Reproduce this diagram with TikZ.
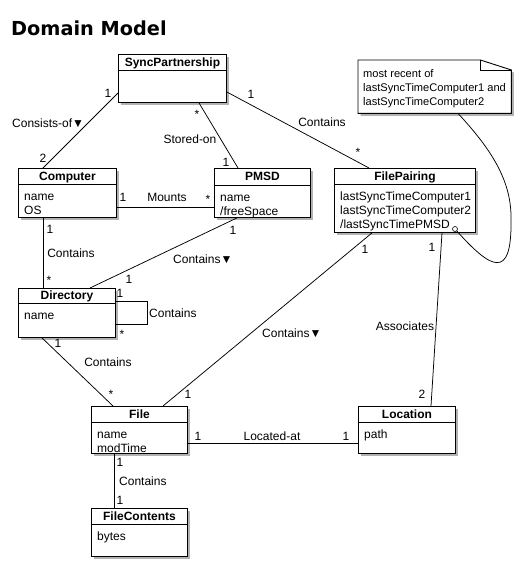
\documentclass[tikz,border=0pt]{standalone}
\usepackage{fontspec}
\setmainfont{Liberation Sans}
\newfontfamily\titlefont{DejaVu Sans}
\usetikzlibrary{calc,shadows}
\tikzset{
 cls/.style={draw, line width=0.9pt, fill=white, inner sep=0pt, anchor=north west,
   drop shadow={shadow xshift=2.5pt, shadow yshift=-2.5pt, fill=black, opacity=0.3}},
 hdr/.style={font=\bfseries\fontsize{12}{14}\selectfont, inner sep=0pt, text height=8.6pt, text depth=0pt},
 txt/.style={font=\fontsize{12}{14}\selectfont, inner sep=0pt, text height=8.6pt, text depth=0pt},
 notetxt/.style={font=\fontsize{11.1}{14}\selectfont, inner sep=0pt, text height=8pt, text depth=0pt, anchor=west},
 conn/.style={line width=0.75pt},
}
\newcommand\umlclass[8]{%
 \node[cls, minimum width=#4pt, minimum height=#5pt] (#1) at (#2,#3) {};
 \draw[line width=0.9pt] ($(#1.north west)+(0,#6)$) -- ($(#1.north east)+(0,#6)$);
 \node[hdr] (#1-t) at ($(#1.north)+(0,#6/2)$) {#7};
 \foreach \t [count=\i] in {#8} {\node[txt, anchor=west] (#1-a\i) at ($(#1.north west)+(6,#6+12.5+14*\i-14)$) {\t};}
}
\begin{document}
\begin{tikzpicture}[x=1pt,y=-1pt]
\useasboundingbox (0,0) rectangle (519,563);
\node[font=\titlefont\bfseries\fontsize{19.3}{22}\selectfont, anchor=base west, inner sep=0pt] (title) at (11,35) {Domain Model};

% classes
\umlclass{sync}{118}{54}{108}{48}{16}{SyncPartnership}{}
\umlclass{comp}{18}{168}{98}{49}{16}{Computer}{name,OS}
\umlclass{pmsd}{214}{168}{96}{49}{17}{PMSD}{name,/freeSpace}
\umlclass{fp}{334}{168}{141}{64}{16}{FilePairing}{lastSyncTimeComputer1,lastSyncTimeComputer2,/lastSyncTimePMSD}
\umlclass{dir}{18}{288}{97}{49}{15}{Directory}{name}
\umlclass{file}{91}{406}{96}{47}{16}{File}{name,modTime}
\umlclass{fc}{91}{508}{96}{48}{16}{FileContents}{bytes}
\umlclass{loc}{358}{406}{97}{47}{16}{Location}{path}

% note
\node[inner sep=0pt, minimum width=153pt, minimum height=53pt, anchor=north west] (note) at (358,60) {};
\begin{scope}[transform canvas={xshift=2.5pt,yshift=-2.5pt}]
\fill[black, opacity=0.3] (note.north west) -- ([xshift=-31pt]note.north east) -- ([yshift=-10pt]note.north east) -- (note.south east) -- (note.south west) -- cycle;
\end{scope}
\draw[line width=0.9pt, fill=white] (note.north west) -- ([xshift=-31pt]note.north east) -- ([yshift=-10pt]note.north east) -- (note.south east) -- (note.south west) -- cycle;
\draw[line width=0.9pt] ([xshift=-31pt]note.north east) -- ([xshift=-31pt,yshift=-10pt]note.north east) -- ([yshift=-10pt]note.north east);
\node[notetxt] (n1) at (363,73) {most recent of};
\node[notetxt] (n2) at (363,87) {lastSyncTimeComputer1 and};
\node[notetxt] (n3) at (363,101) {lastSyncTimeComputer2};
\node[draw, circle, inner sep=0pt, minimum size=5pt, line width=0.6pt, fill=white] (circ) at (455,229) {};
\draw[conn] ([xshift=100pt]note.south west) .. controls (490,148) and (512,180) .. (511,220) .. controls (512,282) and (490,268) .. (circ);

% connectors
\draw[conn] ([yshift=-39pt]sync.north west) -- ([xshift=25pt]comp.north west);
\draw[conn] ([xshift=81pt]sync.south west) -- ([xshift=24pt]pmsd.north west);
\draw[conn] ([yshift=-38pt]sync.north east) -- ([xshift=35pt]fp.north west);
\draw[conn] ([yshift=-39pt]comp.north east) -- ([yshift=-39pt]pmsd.north west);
\draw[conn] ([xshift=25pt]comp.south west) -- ([xshift=25pt]dir.north west);
\draw[conn] ([xshift=23pt]pmsd.south west) -- ([xshift=72pt]dir.north west);
\draw[conn] ([yshift=-13pt]dir.north east) -- ++(31,0) -- ++(0,23) -- ([yshift=-36pt]dir.north east);
\draw[conn] ([xshift=24pt]dir.south west) -- ([xshift=22pt]file.north west);
\draw[conn] ([xshift=38pt]fp.south west) -- ([xshift=72pt]file.north west);
\draw[conn] ([xshift=108pt]fp.south west) -- ([xshift=73pt]loc.north west);
\draw[conn] ([yshift=-37pt]file.north east) -- ([yshift=-37pt]loc.north west);
\draw[conn] ([xshift=23pt]file.south west) -- ([xshift=23pt]fc.north west);

% labels
\node[txt] (m1) at (108,93) {1};
\node[txt, anchor=west] (m2) at (12,123) {Consists-of▼};
\node[txt] (m3) at (43,158) {2};
\node[txt] (m4) at (197,114) {*};
\node[txt] (m5) at (190,139) {Stored-on};
\node[txt] (m6) at (226,162) {1};
\node[txt] (m7) at (251,94) {1};
\node[txt] (m8) at (322,122) {Contains};
\node[txt] (m9) at (358,152) {*};
\node[txt] (m10) at (123,197) {1};
\node[txt] (m11) at (167,197) {Mounts};
\node[txt] (m12) at (208,199) {*};
\node[txt] (m13) at (50,229) {1};
\node[txt] (m14) at (71,253) {Contains};
\node[txt] (m15) at (49,280) {*};
\node[txt] (m16) at (233,230) {1};
\node[txt] (m17) at (129,279) {1};
\node[txt, anchor=west] (m18) at (173,259) {Contains▼};
\node[txt] (m19) at (120,293) {1};
\node[txt] (m20) at (122,334) {*};
\node[txt, anchor=west] (m21) at (149,313) {Contains};
\node[txt] (m22) at (58,343) {1};
\node[txt] (m23) at (108,362) {Contains};
\node[txt] (m24) at (111,394) {*};
\node[txt] (m25) at (188,394) {1};
\node[txt] (m26) at (365,249) {1};
\node[txt, anchor=west] (m27) at (262,333) {Contains▼};
\node[txt] (m28) at (432,247) {1};
\node[txt] (m29) at (405,326) {Associates};
\node[txt] (m30) at (422,394) {2};
\node[txt] (m31) at (198,436) {1};
\node[txt] (m32) at (272,436) {Located-at};
\node[txt] (m33) at (346,436) {1};
\node[txt] (m34) at (120,462) {1};
\node[txt, anchor=west] (m35) at (119,481) {Contains};
\node[txt] (m36) at (120,500) {1};
\end{tikzpicture}
\end{document}
